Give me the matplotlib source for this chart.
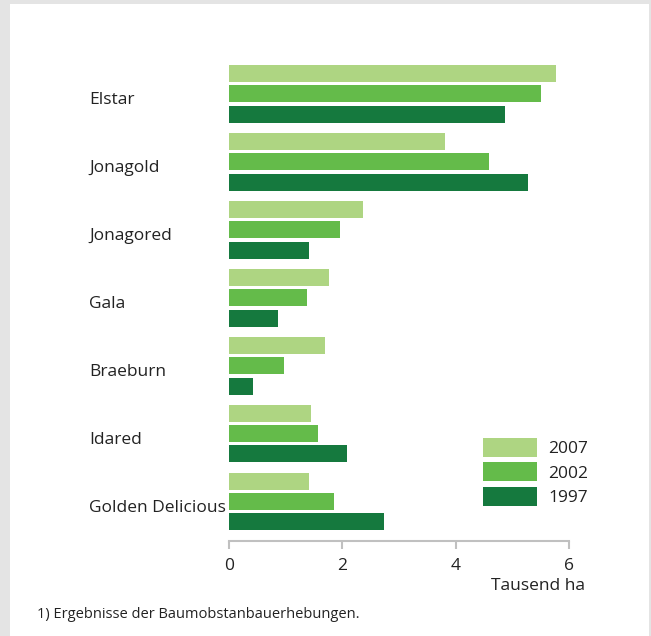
import matplotlib.pyplot as plt
from matplotlib.patches import Rectangle

# Anbauflaeche Aepfel nach Sorten, Tausend ha
sorten = ["Elstar", "Jonagold", "Jonagored", "Gala", "Braeburn", "Idared", "Golden Delicious"]
jahre = ["2007", "2002", "1997"]
werte_2007 = [5.77, 3.81, 2.36, 1.76, 1.69, 1.45, 1.41]
werte_2002 = [5.51, 4.59, 1.96, 1.38, 0.97, 1.57, 1.85]
werte_1997 = [4.87, 5.28, 1.41, 0.86, 0.42, 2.08, 2.74]
farben = ["#aed582", "#64bb4a", "#15793e"]
x_ticks = [0, 2, 4, 6]

plt.rcParams["font.family"] = ["Open Sans", "DejaVu Sans"]

W, H = 651, 636
fig = plt.figure(figsize=(W / 100, H / 100), dpi=100, facecolor="#e4e4e4")
# white panel inside grey frame
fig.patches.append(Rectangle((10 / W, 0), 639 / W, 632 / H, transform=fig.transFigure,
                             facecolor="white", edgecolor="none", zorder=-5))

ax = fig.add_axes([229 / W, (H - 541) / H, 340 / W, (541 - 55) / H])
ax.set_facecolor("none")

pos = range(len(sorten))
offsets = [-0.30, 0.0, 0.30]
for serie, off, farbe, jahr in zip([werte_2007, werte_2002, werte_1997], offsets, farben, jahre):
    ax.barh([p + off for p in pos], serie, height=0.25, color=farbe, label=jahr)

ax.set_xlim(0, 6)
ax.set_ylim(6.58, -0.57)
ax.set_xticks(x_ticks)
ax.set_xticklabels([str(t) for t in x_ticks], fontsize=12.5, color="#222222")
ax.set_yticks([])
for s in ["top", "right", "left"]:
    ax.spines[s].set_visible(False)
ax.spines["bottom"].set_color("#c0c0c0")
ax.spines["bottom"].set_linewidth(1.5)
ax.tick_params(axis="x", length=6, width=1.5, color="#c0c0c0", pad=6)

for i, name in enumerate(sorten):
    fig.text(89 / W, 1 - (100 + 68 * i) / H, name, fontsize=12.5, color="#222222",
             ha="left", va="center")

fig.text(585 / W, 1 - 586 / H, "Tausend ha", fontsize=12.5, color="#222222",
         ha="right", va="center")
fig.text(37 / W, 1 - 615 / H, "1) Ergebnisse der Baumobstanbauerhebungen.", fontsize=10.5,
         color="#222222", ha="left", va="center")

fig.legend(loc="upper left", bbox_to_anchor=(483 / W, 1 - 438 / H), frameon=False,
           fontsize=12.5, handlelength=3.1, handleheight=1.3, handletextpad=0.65,
           labelspacing=0.3, borderpad=0, borderaxespad=0, labelcolor="#222222")

fig.savefig("out.png", dpi=100, facecolor=fig.get_facecolor())
